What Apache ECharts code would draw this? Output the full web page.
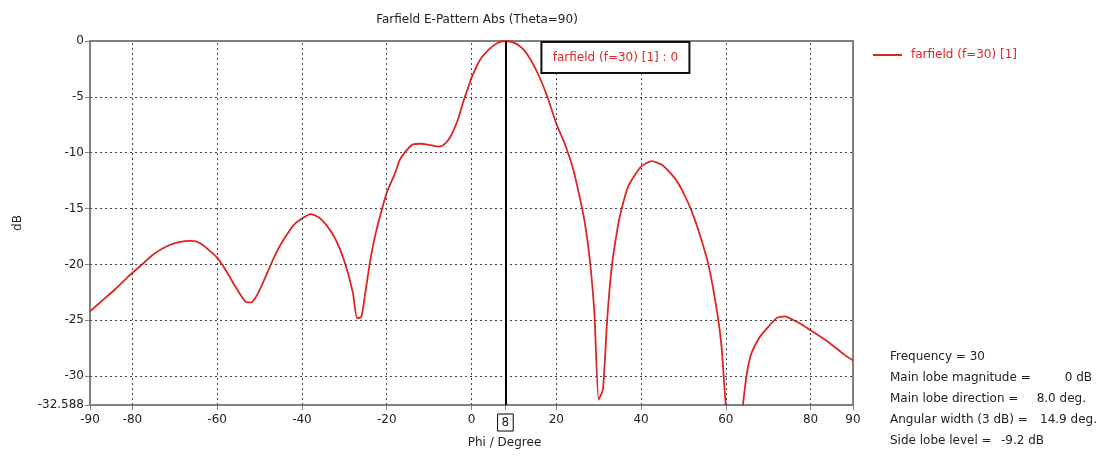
<!DOCTYPE html>
<html>
<head>
<meta charset="utf-8">
<script src="https://cdn.jsdelivr.net/npm/echarts@6/dist/echarts.min.js"></script>
<style>
html,body{margin:0;padding:0;background:#fff;}
#chart{width:1105px;height:456px;}
</style>
</head>
<body>
<div id="chart"></div>
<script>
// ---- data ----
const phi = [-90,-87,-84,-81,-78,-75,-72,-69,-66,-64,-62,-60,-58,-56,-54,-53,-52,-51,-50,-48,-46,-44,-42,-40,-38,-36,-34,-32,-30,-28,-27,-26,-25,-24,-23,-22,-20,-18,-17,-16,-14,-12,-10,-8,-7,-6,-5,-4,-3,-2,-1,0,2,4,6,8,10,12,14,16,18,20,22,24,26,27,28,29,30,31,32,33,34,35,37,40,42.5,45,48,50,52,54,56,58,59,60,62,64,65,66,68,70,72,74,76,78,80,84,88,90];
const dB  = [-24.2,-23.2,-22.2,-21.1,-20.1,-19.1,-18.4,-18.0,-17.9,-18.1,-18.7,-19.4,-20.5,-21.8,-23.0,-23.4,-23.4,-23.0,-22.3,-20.6,-18.9,-17.6,-16.5,-15.9,-15.5,-15.8,-16.6,-17.8,-19.7,-22.5,-24.8,-24.7,-22.4,-19.9,-17.9,-16.3,-13.6,-11.8,-10.7,-10.1,-9.3,-9.2,-9.3,-9.45,-9.4,-9.1,-8.6,-7.8,-6.8,-5.5,-4.4,-3.3,-1.7,-0.8,-0.2,0,-0.15,-0.65,-1.7,-3.2,-5.1,-7.4,-9.2,-11.5,-14.8,-16.9,-19.9,-24.4,-32.1,-31.2,-25.0,-20.5,-17.8,-15.7,-13.0,-11.25,-10.75,-11.1,-12.3,-13.6,-15.3,-17.5,-20.2,-24.4,-27.4,-32.7,-40,-32.7,-29.7,-28.0,-26.5,-25.6,-24.8,-24.65,-25.0,-25.4,-25.9,-26.9,-28.1,-28.6];
const xTickLabels = [-90,-80,-60,-40,-20,0,8,20,40,60,80,90];
const yTickLabels = [0,-5,-10,-15,-20,-25,-30,-32.588];
const xGridLines = [-80,-60,-40,-20,0,20,40,60,80];
const yGridLines = [-5,-10,-15,-20,-25,-30];
const markerPhi = 8;
const markerValue = 0;
const seriesName = 'farfield (f=30) [1]';
const titleText = 'Farfield E-Pattern Abs (Theta=90)';
const infoLabels = ['Frequency = 30','Main lobe magnitude =','Main lobe direction =','Angular width (3 dB) =','Side lobe level ='];
const infoValues = ['','0 dB','8.0 deg.','14.9 deg.','-9.2 dB'];

// ---- styles ----
const FONT = 'DejaVu Sans';
const RED = '#e02424';
const TXT = '#222';
const AXC = '#808080';

const chart = echarts.init(document.getElementById('chart'), null, {renderer:'canvas'});

const pts = phi.map((p,i)=>[p,dB[i]]);

const infoValueRight = [0,1092,1086,1097,1044];
const graphics = [];
infoLabels.forEach((t,i)=>{
  graphics.push({type:'text', x:890, y:357+i*21, style:{text:t, font:'12px '+FONT, fill:TXT, verticalAlign:'middle'}});
  if (infoValues[i]) graphics.push({type:'text', x:infoValueRight[i], y:357+i*21, style:{text:infoValues[i], font:'12px '+FONT, fill:TXT, align:'right', verticalAlign:'middle'}});
});

chart.setOption({
  animation:false,
  backgroundColor:'#fff',
  title:{text:titleText, left:472, textAlign:'center', top:9, textStyle:{fontFamily:FONT, fontSize:12, fontWeight:'normal', color:TXT}},
  legend:{data:[{name:seriesName, icon:'rect'}], left:868, top:44, itemWidth:29, itemHeight:2, itemGap:6,
    textStyle:{fontFamily:FONT, fontSize:12, color:RED, padding:[0,0,0,4]}},
  grid:{left:90, right:252, top:41, bottom:51, show:true, borderColor:AXC, borderWidth:2, containLabel:false},
  xAxis:{type:'value', min:-90, max:90,
    name:'Phi / Degree', nameLocation:'middle', nameGap:28,
    nameTextStyle:{fontFamily:FONT, fontSize:12, color:TXT, padding:[0,0,0,66]},
    axisLine:{onZero:false, lineStyle:{color:AXC, width:2}},
    axisTick:{show:true, length:5, lineStyle:{color:AXC}, customValues:xTickLabels},
    axisLabel:{customValues:xTickLabels, margin:9, fontFamily:FONT, fontSize:12, color:TXT,
      formatter:(v)=> v===markerPhi ? '{box|'+v+'}' : String(v),
      rich:{box:{fontFamily:FONT, fontSize:12, color:TXT, borderColor:'#000', borderWidth:1, padding:[3,4,2,4]}}},
    splitLine:{show:false}},
  yAxis:{type:'value', min:-32.588, max:0,
    name:'dB', nameLocation:'middle', nameGap:66, nameRotate:90,
    nameTextStyle:{fontFamily:FONT, fontSize:12, color:TXT},
    axisLine:{show:true, onZero:false, lineStyle:{color:AXC, width:2}},
    axisTick:{show:true, length:5, lineStyle:{color:AXC}, customValues:yTickLabels},
    axisLabel:{customValues:yTickLabels, margin:6, fontFamily:FONT, fontSize:12, color:TXT,
      formatter:(v)=>String(v)},
    splitLine:{show:false}},
  series:[
    {name:'grid', type:'line', data:[], silent:true, z:1,
      markLine:{silent:true, symbol:'none', animation:false, label:{show:false},
        lineStyle:{type:[2,3], color:'#444', width:1},
        data:[...xGridLines.map(v=>({xAxis:v})), ...yGridLines.map(v=>({yAxis:v}))]}},
    {name:seriesName, type:'line', data:pts, showSymbol:false, symbol:'none', z:3, smooth:0.2,
      lineStyle:{color:RED, width:1.8}, itemStyle:{color:RED}, clip:true,
      markLine:{silent:true, symbol:'none', animation:false, label:{show:false},
        lineStyle:{type:'solid', color:'#000', width:2},
        data:[{xAxis:markerPhi}]}}
  ],
  graphic: graphics
});

// annotation box anchored to the marker position
const mp = chart.convertToPixel({seriesIndex:1}, [markerPhi, markerValue]);
const bx = mp[0]+36, by = mp[1]+1, bw = 148, bh = 31;
graphics.push({type:'rect', shape:{x:bx, y:by, width:bw, height:bh}, style:{fill:'#fff', stroke:'#111', lineWidth:2}, z:10});
graphics.push({type:'text', x:bx+bw/2, y:by+bh/2, style:{text:seriesName+' : '+markerValue, font:'12px '+FONT, fill:RED, align:'center', verticalAlign:'middle'}, z:11});
chart.setOption({graphic: graphics});
</script>
</body>
</html>
